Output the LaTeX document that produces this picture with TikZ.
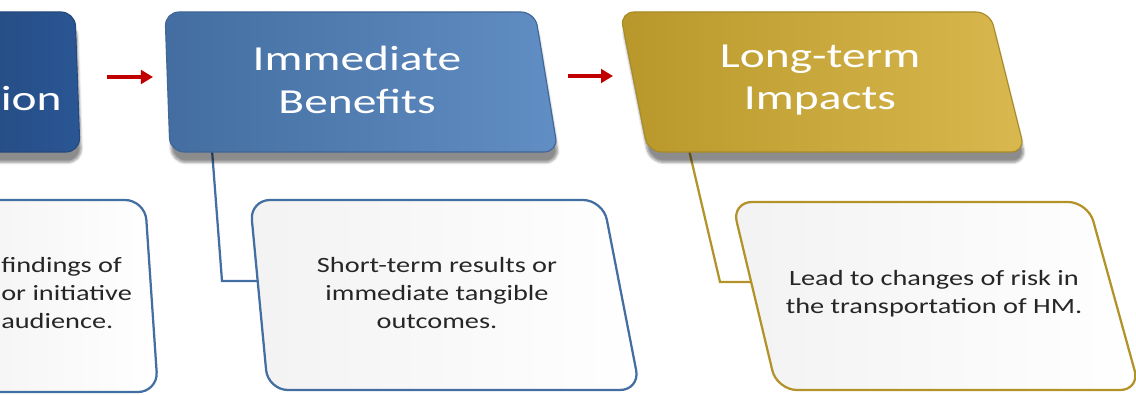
\documentclass[tikz,border=0pt]{standalone}
\usepackage{fontspec}
\newfontfamily\headfont[FakeStretch=1.35]{Carlito}
\newfontfamily\bodyfont[FakeStretch=1.3]{Carlito}
\usetikzlibrary{arrows.meta,shadows.blur}
\definecolor{darkblue}{HTML}{2A5694}
\definecolor{stageblue}{HTML}{4F81BD}
\definecolor{stagegold}{HTML}{D2AC30}
\definecolor{arrowred}{HTML}{C00000}
\begin{document}
\begin{tikzpicture}[x=0.025cm,y=-0.025cm,
    head/.style={rounded corners=3.5mm,line width=0.8pt,
      blur shadow={shadow xshift=0.4mm,shadow yshift=-2.6mm,shadow blur steps=6,shadow opacity=45}},
    head text/.style={text=white,align=center,font=\headfont\fontsize{25}{30.5}\selectfont},
    note/.style={rounded corners=5mm,line width=1.6pt,left color=black!5,right color=white},
    note text/.style={text=black!85,align=center,font=\bodyfont\fontsize{15.5}{20}\selectfont},
    flow/.style={-{Triangle[length=3mm,width=3.4mm]},line width=3pt,draw=arrowred},
    link/.style={line width=1.6pt}]

  \useasboundingbox (0,0) rectangle (1136,394);
  \clip (0,0) rectangle (1136,394);

  % connectors from the stages to their notes
  \coordinate (ben-root) at (212,150);
  \coordinate (ben-elbow) at (222,281);
  \coordinate (ben-tip) at (260,281);
  \coordinate (imp-root) at (689,150);
  \coordinate (imp-elbow) at (720,282);
  \coordinate (imp-tip) at (764,282);
  \draw[link,draw=stageblue!85!black] (ben-root) -- (ben-elbow) -- (ben-tip);
  \draw[link,draw=stagegold!85!black] (imp-root) -- (imp-elbow) -- (imp-tip);

  % notes
  \path[note,draw=stageblue!85!black] (-60,200) -- (145,200) -- (158,392) -- (-60,392) -- cycle;
  \path[note,draw=stageblue!85!black] (250,200) -- (603,200) -- (640,390) -- (268,390) -- cycle;
  \path[note,draw=stagegold!85!black] (732,202) -- (1088,202) -- (1140,390) -- (777,390) -- cycle;

  \node[note text,anchor=west,align=left,inner sep=0pt] (dis-note) at (1,293) {findings of\\or initiative\\audience.};
  \node[note text] (ben-note) at (437,293) {Short-term results or\\immediate tangible\\outcomes.};
  \node[note text] (imp-note) at (934,294) {Lead to changes of risk in\\the transportation of HM.};

  % stages
  \path[head,draw=darkblue!85!black,left color=darkblue!85!black,right color=darkblue]
    (-60,12) -- (75,12) -- (80,152) -- (-60,152) -- cycle;
  \path[head,draw=stageblue!80!black,left color=stageblue!85!black,right color=stageblue!90!white]
    (165,12) -- (535,12) -- (558,152) -- (170,152) -- cycle;
  \path[head,draw=stagegold!80!black,left color=stagegold!88!black,right color=stagegold!85!white]
    (620,12) -- (990,12) -- (1025,152) -- (648,152) -- cycle;

  \node[head text,anchor=base east,inner sep=0pt] (dis) at (62,110) {ion};
  \node[head text] (ben) at (357,80) {Immediate\\Benefits};
  \node[head text] (imp) at (820,80) {Long-term\\Impacts};

  % flow between stages
  \coordinate (dis-e) at (79,77);
  \coordinate (ben-w) at (167,77);
  \coordinate (ben-e) at (546,76);
  \coordinate (imp-w) at (625,76);
  \draw[flow,shorten <=7mm,shorten >=3.5mm] (dis-e) -- (ben-w);
  \draw[flow,shorten <=5.5mm,shorten >=3mm] (ben-e) -- (imp-w);
\end{tikzpicture}
\end{document}
